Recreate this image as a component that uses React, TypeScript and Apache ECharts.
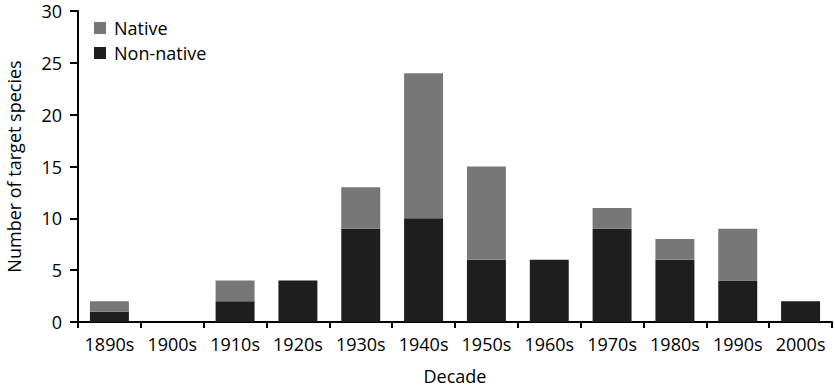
import React, { useEffect, useRef } from "react";
import * as echarts from "echarts";

const decades = ["1890s", "1900s", "1910s", "1920s", "1930s", "1940s", "1950s", "1960s", "1970s", "1980s", "1990s", "2000s"];
const nonNative = [1, 0, 2, 4, 9, 10, 6, 6, 9, 6, 4, 2];
const native = [1, 0, 2, 0, 4, 14, 9, 0, 2, 2, 5, 0];
const yTicks = { min: 0, max: 30, interval: 5 };

const FONT = "'Open Sans', 'Liberation Sans', sans-serif";
const W = 500;

export default function App() {
  const ref = useRef<HTMLDivElement>(null);
  useEffect(() => {
    const chart = echarts.init(ref.current!, null, { renderer: "svg" });
    chart.setOption({
      animation: false,
      textStyle: { fontFamily: FONT },
      grid: { left: 78, right: 3, top: 11, bottom: 68, containLabel: false, outerBoundsMode: "none" },
      legend: {
        orient: "vertical",
        left: 89,
        top: 14,
        data: ["Native", "Non-native"],
        itemWidth: 12,
        itemHeight: 12,
        itemGap: 7,
        icon: "rect",
        textStyle: { fontSize: 18, color: "#000", fontFamily: FONT, fontWeight: W, padding: [0, 0, 0, 3] },
      },
      xAxis: {
        type: "category",
        data: decades,
        name: "Decade",
        nameLocation: "middle",
        nameGap: 45,
        nameTextStyle: { fontSize: 18, color: "#000", fontFamily: FONT, fontWeight: W },
        axisLine: { lineStyle: { color: "#000", width: 2 } },
        axisTick: { show: true, length: 6, lineStyle: { color: "#000", width: 2 } },
        axisLabel: { fontSize: 18, color: "#000", margin: 13, fontFamily: FONT, fontWeight: W, interval: 0, hideOverlap: false },
      },
      yAxis: {
        type: "value",
        min: yTicks.min,
        max: yTicks.max,
        interval: yTicks.interval,
        name: "Number of target species",
        nameLocation: "middle",
        nameGap: 55,
        nameTextStyle: { fontSize: 18, color: "#000", fontFamily: FONT, fontWeight: W },
        axisLine: { show: true, lineStyle: { color: "#000", width: 2 } },
        axisTick: { show: true, length: 8, lineStyle: { color: "#000", width: 2 } },
        splitLine: { show: false },
        axisLabel: { fontSize: 18, color: "#000", margin: 16, fontFamily: FONT, fontWeight: W },
      },
      series: [
        {
          name: "Non-native",
          type: "bar",
          stack: "total",
          data: nonNative,
          barWidth: "62%",
          itemStyle: { color: "#1e1e1e" },
        },
        {
          name: "Native",
          type: "bar",
          stack: "total",
          data: native,
          barWidth: "62%",
          itemStyle: { color: "#777777" },
        },
      ],
    });
    return () => chart.dispose();
  }, []);
  return <div ref={ref} style={{ width: 835, height: 390, position: "absolute", left: 0, top: 0 }} />;
}
